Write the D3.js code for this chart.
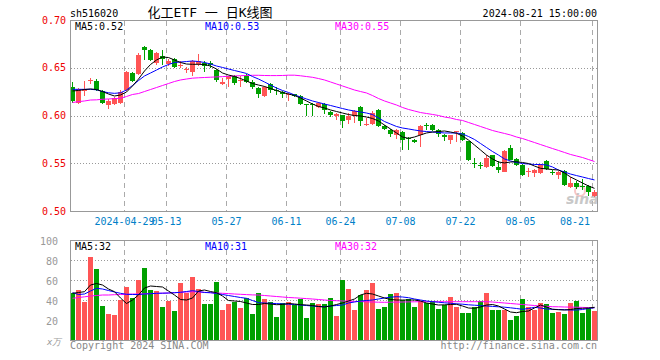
<!DOCTYPE html>
<html>
<head>
<meta charset="utf-8">
<script src="https://cdn.jsdelivr.net/npm/d3@7"></script>
<style>
body { margin: 0; background: #fff; }
text { font-family: "DejaVu Sans Mono", monospace; font-size: 10px; }
</style>
</head>
<body>
<script>
// trading days shown (2024)
var dates = ["04-16","04-17","04-18","04-19","04-22","04-23","04-24","04-25","04-26","04-29",
  "04-30","05-06","05-07","05-08","05-09","05-10","05-13","05-14","05-15","05-16",
  "05-17","05-20","05-21","05-22","05-23","05-24","05-27","05-28","05-29","05-30",
  "05-31","06-03","06-04","06-05","06-06","06-07","06-11","06-12","06-13","06-14",
  "06-17","06-18","06-19","06-20","06-21","06-24","06-25","06-26","06-27","06-28",
  "07-01","07-02","07-03","07-04","07-05","07-08","07-09","07-10","07-11","07-12",
  "07-15","07-16","07-17","07-18","07-19","07-22","07-23","07-24","07-25","07-26",
  "07-29","07-30","07-31","08-01","08-02","08-05","08-06","08-07","08-08","08-09",
  "08-12","08-13","08-14","08-15","08-16","08-19","08-20","08-21"];

var open = [.630,.613,.626,.636,.636,.626,.611,.612,.613,.627,
  .645,.643,.672,.669,.655,.662,.654,.659,.652,.648,
  .646,.654,.655,.655,.648,.633,.638,.641,.636,.641,
  .635,.629,.620,.633,.627,.625,.622,.622,.620,.612,
  .612,.609,.612,.604,.599,.601,.595,.600,.609,.590,
  .591,.606,.589,.585,.580,.583,.576,.574,.580,.590,
  .590,.585,.580,.574,.583,.582,.573,.550,.548,.546,
  .559,.546,.541,.566,.554,.548,.541,.540,.540,.552,
  .541,.538,.542,.525,.529,.526,.526,.516];
var high = [.635,.629,.636,.639,.638,.627,.617,.619,.627,.647,
  .646,.665,.673,.670,.667,.669,.659,.660,.657,.651,
  .658,.664,.657,.657,.649,.639,.641,.642,.641,.643,
  .637,.630,.631,.634,.630,.626,.624,.623,.621,.612,
  .613,.614,.613,.605,.603,.601,.603,.606,.610,.597,
  .605,.607,.590,.586,.586,.584,.577,.575,.590,.592,
  .591,.586,.581,.580,.584,.583,.573,.555,.551,.559,
  .559,.552,.564,.569,.555,.549,.545,.544,.549,.553,
  .543,.542,.543,.536,.531,.533,.527,.522];
var low = [.613,.612,.620,.633,.626,.612,.607,.611,.612,.626,
  .635,.642,.658,.657,.653,.653,.652,.650,.650,.645,
  .641,.652,.646,.650,.635,.632,.630,.632,.630,.634,
  .628,.618,.619,.624,.621,.618,.615,.619,.611,.600,
  .600,.608,.602,.598,.595,.587,.591,.592,.589,.589,
  .590,.588,.585,.577,.575,.564,.564,.571,.567,.585,
  .584,.577,.573,.570,.572,.573,.552,.545,.544,.545,
  .546,.540,.541,.553,.547,.537,.536,.536,.539,.543,
  .538,.533,.526,.524,.523,.522,.516,.515];
var close = [.615,.628,.628,.637,.627,.613,.615,.618,.625,.646,
  .636,.663,.669,.658,.665,.659,.657,.651,.653,.649,
  .657,.657,.652,.653,.637,.635,.641,.634,.637,.635,
  .630,.622,.630,.627,.626,.622,.623,.620,.612,.611,
  .611,.613,.606,.601,.602,.594,.600,.605,.594,.591,
  .603,.589,.586,.581,.585,.574,.575,.572,.589,.589,
  .585,.581,.578,.580,.584,.574,.553,.5495,.547,.555,
  .547,.543,.563,.553,.548,.538,.542,.543,.548,.544,
  .540,.541,.527,.529,.525,.525,.520,.520];

var ma5 = [.6257,.6262,.6272,.6278,.6272,.6251,.6225,.6204,.6215,.6246,
  .6309,.6382,.6466,.6534,.6581,.6613,.6607,.6581,.6555,.6539,
  .6536,.6536,.6534,.6518,.6487,.6445,.6424,.6408,.6387,.6361,
  .6335,.6319,.6304,.6283,.6262,.6241,.6225,.6209,.6183,.6152,
  .6120,.6094,.6079,.6058,.6042,.6026,.6010,.6000,.5995,.5984,
  .5969,.5942,.5900,.5859,.5817,.5775,.5761,.5775,.5796,.5817,
  .5827,.5832,.5838,.5827,.5814,.5785,.5743,.5691,.5639,.5586,
  .5545,.5513,.5503,.5513,.5516,.5508,.5497,.5471,.5447,.5440,
  .5434,.5429,.5398,.5356,.5325,.5293,.5262,.5237];
var ma10 = [.6274,.6274,.6274,.6274,.6269,.6251,.6238,.6232,.6238,.6267,
  .6314,.6366,.6414,.6445,.6476,.6508,.6534,.6555,.6560,.6565,
  .6571,.6565,.6555,.6539,.6518,.6503,.6487,.6471,.6456,.6440,
  .6408,.6382,.6351,.6319,.6288,.6262,.6241,.6215,.6194,.6173,
  .6152,.6136,.6120,.6105,.6089,.6073,.6058,.6047,.6037,.6026,
  .6010,.5974,.5937,.5911,.5885,.5869,.5859,.5848,.5838,.5832,
  .5827,.5822,.5817,.5817,.5817,.5806,.5780,.5749,.5707,.5665,
  .5623,.5586,.5545,.5524,.5508,.5497,.5492,.5487,.5487,.5482,
  .5461,.5429,.5408,.5387,.5371,.5356,.5340,.5325];
var ma30 = [.6136,.6145,.6152,.6162,.6164,.6170,.6173,.6177,.6180,.6199,
  .6220,.6230,.6251,.6272,.6293,.6314,.6335,.6356,.6372,.6382,
  .6391,.6395,.6398,.6401,.6404,.6407,.6411,.6414,.6417,.6419,
  .6421,.6421,.6419,.6418,.6418,.6419,.6422,.6422,.6416,.6408,
  .6400,.6387,.6372,.6351,.6330,.6309,.6288,.6267,.6251,.6236,
  .6209,.6178,.6152,.6131,.6110,.6084,.6063,.6047,.6031,.6021,
  .6011,.6000,.5984,.5974,.5958,.5948,.5927,.5906,.5885,.5864,
  .5843,.5827,.5812,.5796,.5775,.5759,.5738,.5717,.5696,.5675,
  .5654,.5634,.5613,.5592,.5576,.5560,.5539,.5518];

// volume, 万手
var volume = [47,50,38,83,71,34,26,25,40,53,
  42,60,72,50,49,33,39,29,57,47,
  63,51,36,36,58,30,36,38,32,42,
  26,47,41,38,23,37,38,35,41,22,
  37,36,36,42,24,60,51,30,45,50,
  57,31,33,46,47,40,41,33,39,37,
  39,31,35,43,33,27,27,33,39,47,
  30,30,30,20,24,41,33,30,37,36,
  27,28,26,37,39,27,32,29];
var volMa5 = [46.7,47.5,48.3,55,56.5,55,51,48.3,42,36.5,
  40,45,52,54,53.5,53,49,45,40.5,40,
  42,49,50,48.5,47.3,44,39.5,39,38.5,37,
  35.5,35.5,36.5,36,35.3,35.5,36.5,36,35.3,35,
  34.5,33.5,33,34,35.5,37,39,41,45,46.7,
  46,44,42,40.5,40,40,40,40,39,37,
  36,35,35.2,35.5,35.7,34,32,31.7,33,35,
  35.5,34,31,28,27.3,28.5,29,32,35,33,
  30.7,30.3,30,30.5,31.5,31.7,32,32.7];
var volMa10 = [47.3,45.5,46,49,51.7,51,49.5,48,46.7,45.7,
  45.5,45.5,46,46.3,46.7,46.8,47,47.3,47.7,48.5,
  49.3,48.5,47.5,47.3,46.5,45.5,44.5,43.5,42.5,41.7,
  39.5,37.3,37,36.7,36.4,36.1,35.8,35.5,35,34.5,
  34,33.5,33.3,34,34.5,35,37,38,39,39.5,
  40,41,42,42.8,43.3,43,42.3,41,40,39,
  38.3,37.8,37.2,36.7,36.2,35.8,35.2,34.8,34.4,34,
  33.6,33.2,32.8,32.2,31.5,30.7,31.5,32.7,32,31,
  30.7,30.5,30.3,30,30,30.5,31.5,32.3];
var volMa30 = [41.7,42.5,43.2,44,44.5,45,45,45.3,45.5,45.7,
  46,46,46.2,46.4,46.6,46.8,47,47.3,47.7,48,
  48.3,48,47.7,47.3,47,46.7,46.4,46,45.7,45.4,
  45.1,45,44.5,44,43.5,43,42.5,42.2,41.8,41.4,
  41,40.5,40,39.5,39.3,39,38.8,38.6,38.4,38.2,
  38,37.8,37.7,37.8,37.9,38,38.1,38.2,38.3,38.3,
  38.3,38.3,38.3,38.3,38.3,38.3,38.3,38.3,38.3,38.3,
  38,37.5,37,36.5,36,35.5,35,34.5,34,33.7,
  33.3,33.2,33,32.9,32.8,32.6,32.4,32.3];

var priceTicks = [0.50, 0.55, 0.60, 0.65, 0.70];
var volTicks = [20, 40, 60, 80, 100];
var tickDates = ["04-29","05-13","05-27","06-11","06-24","07-08","07-22","08-05","08-21"];
var tickLabels = ["2024-04-29","05-13","05-27","06-11","06-24","07-08","07-22","08-05","08-21"];

var up = "#ff5555", down = "#00a000";
var maColors = ["#000000", "#0000ff", "#ff00ff"];

var width = 660, height = 360;
var left = 70, right = 598;

var svg = d3.select("body").append("svg")
  .attr("width", width)
  .attr("height", height)
  .style("display", "block");

var x = d3.scaleBand()
  .domain(dates)
  .range([left, right])
  .paddingInner(1/6)
  .align(0)
  .round(true);

var y = d3.scaleLinear().domain([0.50, 0.70]).range([211, 20]);
var yv = d3.scaleLinear().domain([0, 100]).range([340, 240]);

var candles = dates.map(function(d, i) {
  return {date: d, o: open[i], h: high[i], l: low[i], c: close[i], v: volume[i]};
});
function col(d) { return d.c >= d.o ? up : down; }

// header
svg.append("text").attr("x", 70).attr("y", 16.5).text("sh516020");
svg.append("text")
  .attr("x", 210).attr("y", 17)
  .attr("text-anchor", "middle")
  .style("font-family", "'DejaVu Sans Mono', 'Noto Sans CJK SC'")
  .style("font-size", "13px")
  .text("化工ETF 一 日K线图");
svg.append("text").attr("x", 597).attr("y", 16.5).attr("text-anchor", "end").text("2024-08-21 15:00:00");

// grid for both panels
function grid(yScale, ticks, top, bottom) {
  svg.append("g").selectAll("line").data(ticks).enter().append("line")
    .attr("x1", left + 1).attr("x2", right - 1)
    .attr("y1", function(t) { return Math.round(yScale(t)) + 0.5; })
    .attr("y2", function(t) { return Math.round(yScale(t)) + 0.5; })
    .style("stroke", "#999")
    .style("stroke-dasharray", "1,2");
  svg.append("g").selectAll("line").data(tickDates).enter().append("line")
    .attr("x1", function(d) { return x(d) + 0.5; })
    .attr("x2", function(d) { return x(d) + 0.5; })
    .attr("y1", top).attr("y2", bottom)
    .style("stroke", "#aaa")
    .style("stroke-dasharray", "5,4");
}
grid(y, [0.55, 0.60, 0.65], 21, 211);
grid(yv, [20, 40, 60, 80], 241, 340);

// price axis labels
svg.append("g").selectAll("text").data(priceTicks).enter().append("text")
  .attr("x", 66)
  .attr("y", function(t) { return y(t); })
  .attr("dy", "0.35em")
  .attr("text-anchor", "end")
  .style("fill", "#ee0000")
  .text(function(t) { return t.toFixed(2); });

svg.append("g").selectAll("text").data(volTicks).enter().append("text")
  .attr("x", 58)
  .attr("y", function(t) { return yv(t) + 1; })
  .attr("dy", "0.35em")
  .attr("text-anchor", "end")
  .style("fill", "#999")
  .text(function(t) { return t; });
svg.append("text").attr("x", 47).attr("y", 345)
  .style("fill", "#999").style("font-size", "9px").style("font-style", "italic")
  .text("x万");

// date labels
svg.append("g").selectAll("text").data(tickDates).enter().append("text")
  .attr("x", function(d, i) { return i == tickDates.length - 1 ? 590 : x(d) + 0.5; })
  .attr("y", 225)
  .attr("text-anchor", function(d, i) { return i == tickDates.length - 1 ? "end" : "middle"; })
  .style("fill", "#0080c8")
  .text(function(d, i) { return tickLabels[i]; });

// sina watermark
svg.append("circle").attr("cx", 580).attr("cy", 191).attr("r", 5)
  .style("fill", "none").style("stroke", "#f4a0a0").style("stroke-width", 2).style("opacity", 0.6);
svg.append("text").attr("x", 566).attr("y", 204)
  .style("font-family", "'DejaVu Sans'").style("font-size", "14px")
  .style("font-weight", "bold").style("font-style", "italic")
  .style("fill", "#bbb").style("opacity", 0.8)
  .text("sina");

// candles
var cg = svg.append("g").attr("shape-rendering", "crispEdges");
cg.selectAll("line").data(candles).enter().append("line")
  .attr("x1", function(d) { return x(d.date) + 2.5; })
  .attr("x2", function(d) { return x(d.date) + 2.5; })
  .attr("y1", function(d) { return y(d.h); })
  .attr("y2", function(d) { return y(d.l); })
  .style("stroke", col);
cg.selectAll("rect").data(candles).enter().append("rect")
  .attr("x", function(d) { return x(d.date); })
  .attr("width", x.bandwidth())
  .attr("y", function(d) { return y(Math.max(d.o, d.c)); })
  .attr("height", function(d) { return Math.max(1, Math.abs(y(d.o) - y(d.c))); })
  .style("fill", col);

// volume bars
svg.append("g").attr("shape-rendering", "crispEdges")
  .selectAll("rect").data(candles).enter().append("rect")
  .attr("x", function(d) { return x(d.date); })
  .attr("width", x.bandwidth())
  .attr("y", function(d) { return yv(d.v); })
  .attr("height", function(d) { return 341 - yv(d.v); })
  .style("fill", col);

// moving averages
function maLine(series, yScale, color) {
  var line = d3.line()
    .x(function(d, i) { return x(dates[i]) + 2.5; })
    .y(function(d) { return yScale(d); });
  svg.append("path").datum(series)
    .attr("d", line)
    .style("fill", "none")
    .style("stroke", color)
    .style("stroke-width", 1);
}
maLine(ma30, y, maColors[2]);
maLine(ma10, y, maColors[1]);
maLine(ma5, y, maColors[0]);
maLine(volMa30, yv, maColors[2]);
maLine(volMa10, yv, maColors[1]);
maLine(volMa5, yv, maColors[0]);

// frames
svg.append("rect").attr("x", 70.5).attr("y", 20.5).attr("width", 527).attr("height", 191)
  .style("fill", "none").style("stroke", "#999");
svg.append("rect").attr("x", 70.5).attr("y", 240.5).attr("width", 527).attr("height", 100)
  .style("fill", "none").style("stroke", "#999");

// MA legends
var priceLegend = ["MA5:0.52", "MA10:0.53", "MA30:0.55"];
var volLegend = ["MA5:32", "MA10:31", "MA30:32"];
[priceLegend, volLegend].forEach(function(leg, k) {
  svg.append("g").selectAll("text").data(leg).enter().append("text")
    .attr("x", function(d, i) { return 75 + i * 130; })
    .attr("y", k == 0 ? 29.5 : 249.5)
    .style("fill", function(d, i) { return maColors[i]; })
    .text(function(d) { return d; });
});

// footer
svg.append("text").attr("x", 70).attr("y", 349).style("fill", "#888").text("Copyright 2024 SINA.COM");
svg.append("text").attr("x", 597).attr("y", 349).attr("text-anchor", "end").style("fill", "#888").text("http://finance.sina.com.cn");
</script>
</body>
</html>
